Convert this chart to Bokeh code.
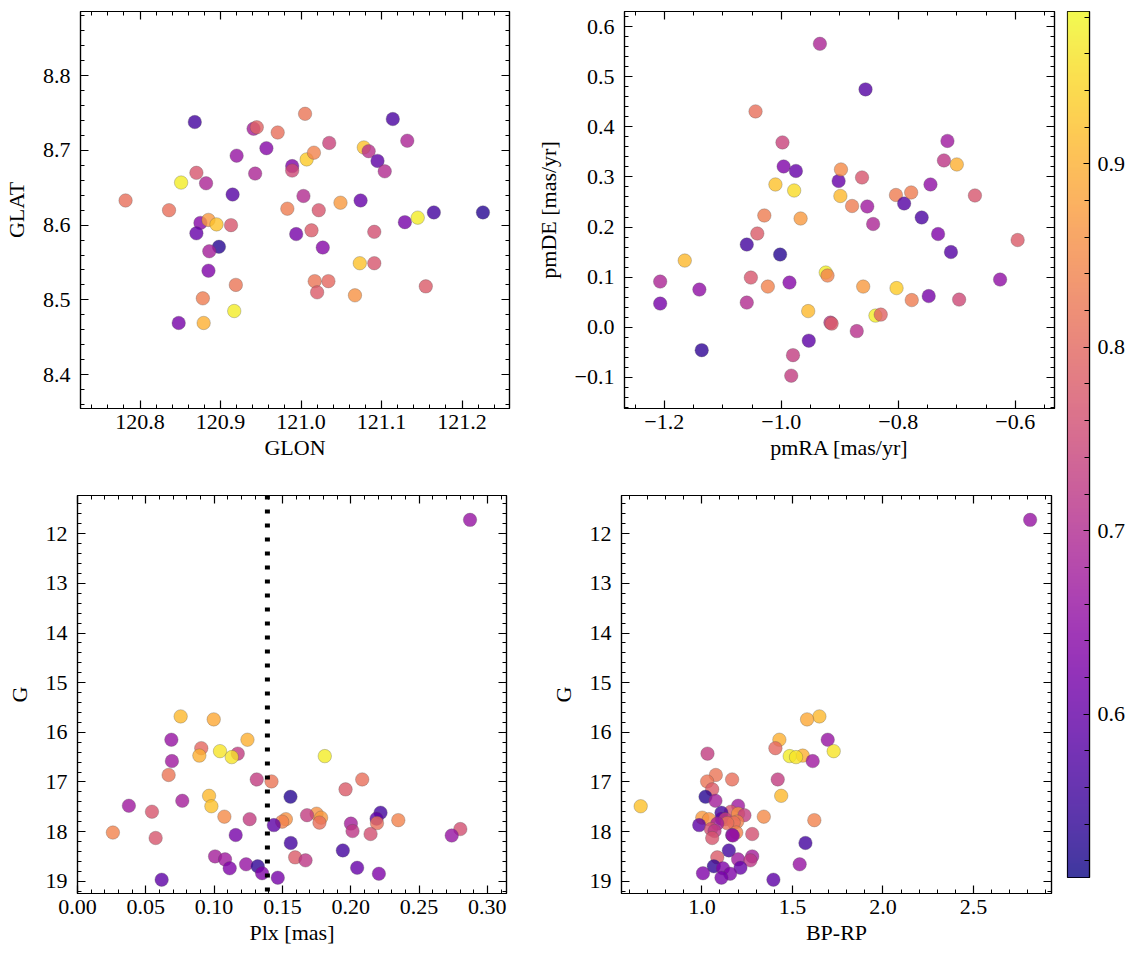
import numpy as np
from bokeh.plotting import figure
from bokeh.models import (Range1d, LinearAxis, SingleIntervalTicker, CustomJSTickFormatter,
                          LinearColorMapper, Span, ColumnDataSource)
from bokeh.palettes import Plasma256
from bokeh.layouts import row, column
from bokeh.embed import file_html
from bokeh.resources import INLINE

# ---------------- data ----------------
# Panel 1: sky positions
glon = [120.782, 120.836, 120.851, 120.868, 120.870, 120.882, 120.875, 120.885, 120.895, 120.870,
        120.898, 120.886, 120.885, 120.878, 120.848, 120.879, 120.917, 120.919, 120.913, 120.915,
        120.920, 120.943, 120.941, 120.945, 120.957, 120.971, 120.989, 120.989, 121.005, 121.007,
        121.016, 121.003, 120.983, 121.022, 120.994, 121.013, 121.027, 121.017, 121.020, 121.034,
        121.035, 121.049, 121.067, 121.073, 121.074, 121.078, 121.084, 121.095, 121.104, 121.091,
        121.091, 121.114, 121.132, 121.129, 121.145, 121.165, 121.155, 121.226]
glat = [8.633, 8.620, 8.657, 8.738, 8.670, 8.656, 8.603, 8.607, 8.601, 8.589,
        8.571, 8.565, 8.539, 8.502, 8.469, 8.469, 8.485, 8.520, 8.600, 8.641,
        8.693, 8.669, 8.729, 8.731, 8.703, 8.724, 8.679, 8.673, 8.749, 8.688,
        8.697, 8.639, 8.622, 8.620, 8.588, 8.593, 8.570, 8.525, 8.510, 8.525,
        8.710, 8.630, 8.506, 8.549, 8.633, 8.704, 8.699, 8.686, 8.672, 8.591,
        8.549, 8.742, 8.713, 8.604, 8.610, 8.617, 8.518, 8.617]
prob_sky = [0.81, 0.81, 0.97, 0.56, 0.77, 0.69, 0.64, 0.87, 0.92, 0.60,
            0.53, 0.68, 0.63, 0.83, 0.62, 0.90, 0.97, 0.82, 0.77, 0.58,
            0.66, 0.69, 0.68, 0.79, 0.64, 0.81, 0.63, 0.75, 0.82, 0.93,
            0.84, 0.70, 0.83, 0.77, 0.62, 0.78, 0.64, 0.82, 0.78, 0.80,
            0.74, 0.87, 0.86, 0.92, 0.60, 0.92, 0.71, 0.59, 0.70, 0.76,
            0.77, 0.57, 0.69, 0.62, 0.97, 0.56, 0.78, 0.53]

# Panel 2: proper motions
pmra = [-1.207, -1.207, -1.165, -1.140, -1.136, -1.059, -1.052, -1.059, -1.044, -1.041,
        -1.029, -1.023, -1.010, -1.002, -0.998, -0.996, -0.986, -0.975, -0.978, -0.967,
        -0.980, -0.983, -0.954, -0.953, -0.934, -0.924, -0.921, -0.916, -0.914, -0.902,
        -0.899, -0.898, -0.879, -0.871, -0.862, -0.860, -0.856, -0.853, -0.843, -0.839,
        -0.830, -0.804, -0.803, -0.790, -0.778, -0.777, -0.760, -0.748, -0.745, -0.732,
        -0.722, -0.716, -0.710, -0.700, -0.696, -0.669, -0.626, -0.596]
pmde = [0.091, 0.047, 0.133, 0.075, -0.046, 0.165, 0.099, 0.049, 0.431, 0.187,
        0.223, 0.081, 0.285, 0.145, 0.369, 0.321, 0.089, 0.312, 0.273, 0.217,
        -0.056, -0.097, 0.032, -0.027, 0.566, 0.109, 0.103, 0.009, 0.007, 0.292,
        0.262, 0.315, 0.242, -0.008, 0.299, 0.081, 0.475, 0.241, 0.206, 0.023,
        0.025, 0.264, 0.078, 0.247, 0.269, 0.054, 0.219, 0.062, 0.285, 0.186,
        0.333, 0.372, 0.150, 0.325, 0.055, 0.263, 0.095, 0.174]
prob_pm = [0.69, 0.62, 0.91, 0.65, 0.54, 0.56, 0.77, 0.70, 0.81, 0.78,
           0.83, 0.84, 0.92, 0.53, 0.74, 0.63, 0.64, 0.60, 0.95, 0.87,
           0.73, 0.73, 0.91, 0.59, 0.69, 0.97, 0.84, 0.72, 0.78, 0.60,
           0.91, 0.85, 0.83, 0.71, 0.77, 0.87, 0.58, 0.67, 0.69, 0.97,
           0.79, 0.83, 0.93, 0.58, 0.83, 0.83, 0.57, 0.62, 0.65, 0.63,
           0.72, 0.67, 0.58, 0.90, 0.75, 0.77, 0.65, 0.78]

# Panels 3 and 4: parallax, G magnitude, colour
plx = [0.2873, 0.0755, 0.0997, 0.0687, 0.1244, 0.0906, 0.1043, 0.1173, 0.0892, 0.1810,
       0.1129, 0.0691, 0.0667, 0.1312, 0.2084, 0.1420, 0.1962, 0.0963, 0.1559, 0.0767,
       0.0376, 0.0980, 0.0545, 0.2218, 0.1750, 0.1680, 0.1075, 0.1783, 0.2189, 0.1260,
       0.1525, 0.2348, 0.1498, 0.1771, 0.2192, 0.2001, 0.1437, 0.2802, 0.2013, 0.0259,
       0.2145, 0.1158, 0.2739, 0.0572, 0.1561, 0.1942, 0.1007, 0.1593, 0.1080, 0.1669,
       0.1234, 0.1319, 0.2047, 0.1114, 0.1351, 0.2206, 0.1466, 0.0616]
gmag = [11.72, 15.68, 15.74, 16.15, 16.15, 16.32, 16.38, 16.43, 16.47, 16.48,
        16.50, 16.58, 16.86, 16.95, 16.95, 16.99, 17.15, 17.28, 17.30, 17.38,
        17.48, 17.49, 17.60, 17.62, 17.64, 17.67, 17.70, 17.72, 17.74, 17.75,
        17.75, 17.77, 17.80, 17.82, 17.83, 17.84, 17.87, 17.95, 17.99, 18.02,
        18.05, 18.07, 18.08, 18.13, 18.23, 18.38, 18.50, 18.52, 18.56, 18.58,
        18.66, 18.70, 18.73, 18.74, 18.84, 18.85, 18.93, 18.97]
bprp = [2.813, 1.649, 1.581, 1.695, 1.428, 1.406, 1.728, 1.031, 1.557, 1.485,
        1.520, 1.612, 1.077, 1.419, 1.167, 1.029, 1.057, 1.438, 1.020, 1.075,
        1.200, 0.662, 1.160, 1.108, 1.200, 1.235, 1.342, 1.002, 1.108, 1.130,
        1.039, 1.621, 1.195, 1.176, 1.140, 1.085, 0.985, 1.050, 1.070, 1.190,
        1.278, 1.167, 1.171, 1.057, 1.572, 1.149, 1.278, 1.085, 1.200, 1.268,
        1.540, 1.066, 1.213, 1.116, 1.006, 1.156, 1.108, 1.395]
prob = [0.66, 0.91, 0.89, 0.66, 0.90, 0.80, 0.96, 0.73, 0.90, 0.97,
        0.96, 0.67, 0.82, 0.73, 0.81, 0.82, 0.78, 0.91, 0.53, 0.68,
        0.67, 0.92, 0.77, 0.56, 0.86, 0.73, 0.85, 0.87, 0.59, 0.73,
        0.86, 0.84, 0.84, 0.81, 0.81, 0.68, 0.59, 0.76, 0.72, 0.84,
        0.76, 0.62, 0.66, 0.77, 0.56, 0.56, 0.68, 0.78, 0.67, 0.72,
        0.66, 0.54, 0.60, 0.63, 0.63, 0.63, 0.62, 0.59]

plx_cut = 0.139
cb_low, cb_high = 0.511, 0.983

# ---------------- styling helpers ----------------
FONT = "Liberation Serif"
TICK_FS = "22px"
LABEL_FS = "22px"
mapper = LinearColorMapper(palette=Plasma256, low=cb_low, high=cb_high)


def fmt(d):
    return CustomJSTickFormatter(code=(
        "const t = Math.abs(tick) < 1e-9 ? 0 : tick;"
        f"return t.toFixed({d}).replace('-', '\\u2212');"))


def style_axis(ax, interval, nminor, digits, label=None, lab_standoff=2,
               maj_in=8, min_in=4):
    ax.ticker = SingleIntervalTicker(interval=interval, num_minor_ticks=nminor)
    ax.formatter = fmt(digits)
    ax.major_tick_in = maj_in
    ax.major_tick_out = 0
    ax.minor_tick_in = min_in
    ax.minor_tick_out = 0
    ax.axis_line_width = 1.2
    ax.major_tick_line_width = 1.2
    ax.minor_tick_line_width = 1.0
    ax.axis_line_color = "black"
    ax.major_tick_line_color = "black"
    ax.minor_tick_line_color = "black"
    ax.major_label_text_font = FONT
    ax.major_label_text_font_size = TICK_FS
    ax.major_label_text_color = "black"
    ax.axis_label_text_font = FONT
    ax.axis_label_text_font_size = LABEL_FS
    ax.axis_label_text_font_style = "normal"
    ax.axis_label_text_color = "black"
    ax.axis_label_standoff = lab_standoff
    if label is not None:
        ax.axis_label = label


def mirror(p, side, interval, nminor):
    ax = LinearAxis()
    style_axis(ax, interval, nminor, 1)
    ax.formatter = CustomJSTickFormatter(code="return '';")
    ax.major_label_text_font_size = "0px"
    ax.major_label_standoff = 0
    ax.axis_label_standoff = 0
    p.add_layout(ax, side)


def make_panel(fw, fh, xr, yr, bl, br, bt, bb, xspec, yspec, xlabel, ylabel):
    p = figure(frame_width=fw, frame_height=fh, x_range=Range1d(*xr), y_range=Range1d(*yr),
               output_backend="svg", toolbar_location=None,
               min_border_left=bl, min_border_right=br, min_border_top=bt, min_border_bottom=bb)
    p.grid.visible = False
    p.outline_line_color = "black"
    p.outline_line_width = 1.2
    p.background_fill_color = "white"
    p.border_fill_color = "white"
    style_axis(p.xaxis[0], *xspec, label=xlabel, lab_standoff=3)
    p.xaxis[0].major_label_standoff = 6
    style_axis(p.yaxis[0], *yspec, label=ylabel, lab_standoff=11)
    p.yaxis[0].major_label_standoff = 10
    mirror(p, "above", xspec[0], xspec[1])
    mirror(p, "right", yspec[0], yspec[1])
    return p


def add_points(p, x, y, c):
    src = ColumnDataSource(dict(x=x, y=y, c=c))
    p.scatter("x", "y", source=src, size=13.5,
              fill_color={"field": "c", "transform": mapper}, fill_alpha=0.8,
              line_color="#555555", line_alpha=0.6, line_width=0.5)


# ---------------- panels ----------------
p1 = make_panel(429, 397, (120.726, 121.259), (8.3545, 8.886), 77, 20, 11, 62,
                (0.1, 5, 1), (0.1, 5, 1), "GLON", "GLAT")
add_points(p1, glon, glat, prob_sky)

p2 = make_panel(430, 397, (-1.268, -0.533), (-0.1626, 0.6306), 95, 2, 11, 62,
                (0.2, 4, 1), (0.1, 5, 1), "pmRA [mas/yr]", "pmDE [mas/yr]")
add_points(p2, pmra, pmde, prob_pm)

p3 = make_panel(429, 398, (0.0, 0.314), (19.248, 11.229), 77, 20, 25, 62,
                (0.05, 5, 2), (1, 5, 0), "Plx [mas]", "G")
add_points(p3, plx, gmag, prob)
p3.add_layout(Span(location=plx_cut, dimension="height", line_color="black",
                   line_width=5, line_dash="4 10"))

p4 = make_panel(430, 398, (0.556, 2.931), (19.248, 11.229), 95, 2, 25, 62,
                (0.5, 5, 1), (1, 5, 0), "BP-RP", "G")
add_points(p4, bprp, gmag, prob)

# ---------------- colour bar ----------------
pcb = figure(frame_width=22, frame_height=866, x_range=Range1d(0, 1),
             y_range=Range1d(cb_low, cb_high),
             output_backend="svg", toolbar_location=None,
             x_axis_location=None, y_axis_location="right",
             min_border_left=11, min_border_right=40, min_border_top=11, min_border_bottom=78)
pcb.grid.visible = False
pcb.outline_line_color = "black"
pcb.outline_line_width = 1.2
pcb.background_fill_color = "white"
pcb.border_fill_color = "white"
grad = np.linspace(cb_low, cb_high, 256).reshape(-1, 1)
pcb.image(image=[grad], x=0, y=cb_low, dw=1, dh=cb_high - cb_low,
          color_mapper=mapper, global_alpha=0.8)
style_axis(pcb.yaxis[0], 0.1, 5, 1, maj_in=6, min_in=5)
pcb.yaxis[0].major_label_standoff = 8

layout = row(column(row(p1, p2), row(p3, p4)), pcb)

open("out.html", "w").write(file_html(layout, INLINE))
